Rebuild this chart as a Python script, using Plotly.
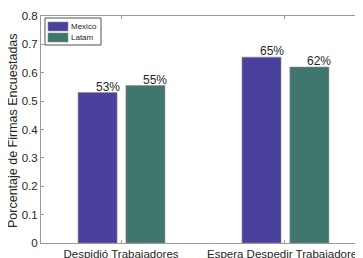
import plotly.graph_objects as go

categories = ["Despidió Trabajadores", "Espera Despedir Trabajadores"]
series_names = ["Mexico", "Latam"]
mexico = [0.53, 0.655]
latam = [0.555, 0.62]
labels_mexico = ["53%", "65%"]
labels_latam = ["55%", "62%"]
y_ticks = [0, 0.1, 0.2, 0.3, 0.4, 0.5, 0.6, 0.7, 0.8]
y_ticklabels = ["0", "0.1", "0.2", "0.3", "0.4", "0.5", "0.6", "0.7", "0.8"]

colors = ["#4a409e", "#41766f"]
FONT = "Liberation Sans, Arial, Helvetica, sans-serif"
bar_w = 0.238
offsets = [-0.262, 0.03]

# page body has an 8px margin; figure is sized/offset to compensate
BODY = 8
PX0, PX1, PY0, PY1 = 41, 363, 16, 243   # target plot area in window pixels

fig = go.Figure()
idx = list(range(len(categories)))
for vals, name, col, off in zip([mexico, latam], series_names, colors, offsets):
    fig.add_trace(go.Bar(
        x=idx, y=vals, name=name, width=bar_w, offset=off,
        marker=dict(color=col, line=dict(color="#8a8a8a", width=0.6)),
        showlegend=False,
    ))

annotations = []
for vals, labs, off in zip([mexico, latam], [labels_mexico, labels_latam], offsets):
    for i, (v, lab) in enumerate(zip(vals, labs)):
        annotations.append(dict(
            x=i + off + bar_w / 2, y=v, xref="x", yref="y", text=lab,
            showarrow=False, xanchor="left", yanchor="bottom",
            xshift=-4, yshift=-3, font=dict(family=FONT, size=12, color="#262626"),
        ))

def px(x):
    return (x - PX0) / (PX1 - PX0)
def py(y):
    return (PY1 - y) / (PY1 - PY0)

# y-axis title
annotations.append(dict(
    x=px(13), y=py(131), xref="paper", yref="paper", text="Porcentaje de Firmas Encuestadas",
    showarrow=False, textangle=-90, xanchor="center", yanchor="middle",
    font=dict(family=FONT, size=12.5, color="#262626"),
))

# legend (manual)
shapes = []
shapes.append(dict(type="rect", xref="paper", yref="paper",
                   x0=px(45), x1=px(101), y0=py(45), y1=py(18),
                   line=dict(color="#262626", width=0.8), fillcolor="white"))
rows = [(22, 31), (33, 42)]
for (ya, yb), name, col in zip(rows, series_names, colors):
    shapes.append(dict(type="rect", xref="paper", yref="paper",
                       x0=px(48), x1=px(68), y0=py(yb), y1=py(ya),
                       line=dict(color="#8a8a8a", width=0.6), fillcolor=col))
    annotations.append(dict(x=px(69), y=py((ya + yb) / 2), xref="paper", yref="paper",
                            text=name, showarrow=False, xanchor="left", yanchor="middle",
                            font=dict(family=FONT, size=8, color="#262626")))

fig.update_layout(
    width=363 - BODY, height=258 - BODY,
    margin=dict(l=PX0 - BODY, r=0, t=PY0 - BODY, b=258 - PY1, pad=0),
    paper_bgcolor="white", plot_bgcolor="white",
    barmode="overlay",
    annotations=annotations, shapes=shapes,
    xaxis=dict(
        range=[-0.488, 1.476], tickmode="array", tickvals=idx, ticktext=categories,
        showline=True, mirror="ticks", linecolor="#9a9a9a", linewidth=1,
        ticks="inside", ticklen=3, tickcolor="#9a9a9a", showgrid=False, zeroline=False,
        tickfont=dict(family=FONT, size=11.5, color="#262626"), automargin=False,
        ticklabeloverflow="allow",
    ),
    yaxis=dict(
        range=[0, 0.8], tickmode="array", tickvals=y_ticks, ticktext=y_ticklabels,
        showline=True, mirror="ticks", linecolor="#9a9a9a", linewidth=1,
        ticks="inside", ticklen=3, tickcolor="#9a9a9a", showgrid=False, zeroline=False,
        tickfont=dict(family=FONT, size=11.5, color="#262626"), automargin=False,
    ),
)

fig.write_html("out.html")
